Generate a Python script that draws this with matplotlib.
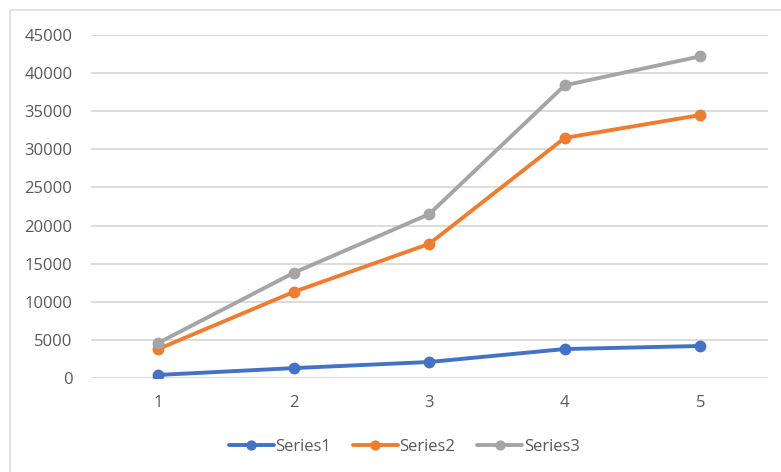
import matplotlib.pyplot as plt
from matplotlib.patches import Rectangle

# data
categories = [1, 2, 3, 4, 5]
series1 = [400, 1300, 2100, 3800, 4200]
series2 = [3800, 11300, 17600, 31500, 34500]
series3 = [4600, 13800, 21500, 38400, 42200]
names = ['Series1', 'Series2', 'Series3']
colors = ['#4472C4', '#ED7D31', '#A5A5A5']
yticks = list(range(0, 45001, 5000))

plt.rcParams['font.family'] = ['Open Sans', 'DejaVu Sans']

fig = plt.figure(figsize=(7.81, 4.72), dpi=100)
W, H = 781, 472
ax = fig.add_axes([90.5 / W, (H - 378) / H, (768 - 90.5) / W, (378 - 35) / H])

# chart frame
fig.patches.append(Rectangle((10 / W, -0.1), 1.2, (H - 10) / H + 0.1,
                             transform=fig.transFigure, fill=False,
                             edgecolor='#DDDDDD', linewidth=1.2))

for vals, name, c in zip([series1, series2, series3], names, colors):
    ax.plot(categories, vals, color=c, linewidth=2.8, marker='o',
            markersize=7.5, label=name, solid_capstyle='round')

ax.set_xlim(0.5, 5.5)
ax.set_ylim(0, 45000)
ax.set_yticks(yticks)
ax.set_xticks(categories)
ax.yaxis.grid(True, color='#D9D9D9', linewidth=1.3)
ax.set_axisbelow(True)
for s in ax.spines.values():
    s.set_visible(False)
ax.tick_params(length=0, colors='#595959', labelsize=12)
ax.tick_params(axis='y', pad=13)
ax.tick_params(axis='x', pad=12)

# legend sits centred under the whole chart area
ax.legend(loc='center', bbox_to_anchor=(0.463, -0.2), ncol=3, frameon=False,
          fontsize=12, labelcolor='#595959', handlelength=2.7,
          handletextpad=0.1, columnspacing=1.3, markerscale=0.85)

fig.savefig('out.png', dpi=100)
